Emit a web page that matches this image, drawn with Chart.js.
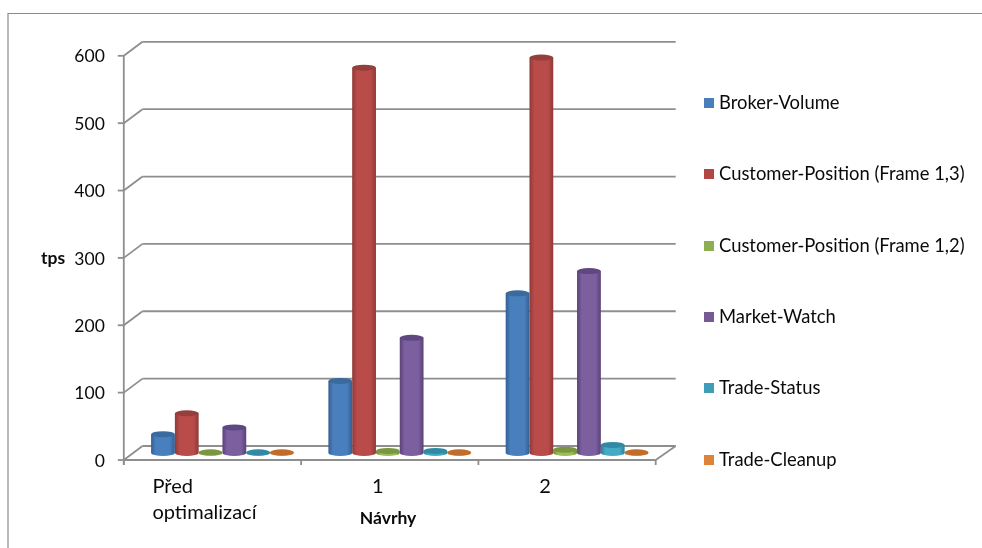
<!DOCTYPE html>
<html>
<head>
<meta charset="utf-8">
<style>html,body{margin:0;padding:0;background:#fff}#wrap{width:982px;height:548px}</style>
<script src="https://cdn.jsdelivr.net/npm/chart.js@4/dist/chart.umd.min.js"></script>
</head>
<body>
<div id="wrap"><canvas id="c" width="982" height="548"></canvas></div>
<script>
const categories = [['Před', 'optimalizací'], '1', '2'];
const brokerVolume = [28, 107, 237];
const customerPosition13 = [59, 572, 587];
const customerPosition12 = [1, 3, 5];
const marketWatch = [38, 171, 270];
const tradeStatus = [1, 3, 12];
const tradeCleanup = [1, 1, 1];
const seriesNames = ['Broker-Volume', 'Customer-Position (Frame 1,3)', 'Customer-Position (Frame 1,2)', 'Market-Watch', 'Trade-Status', 'Trade-Cleanup'];
const seriesValues = [brokerVolume, customerPosition13, customerPosition12, marketWatch, tradeStatus, tradeCleanup];
const yTicks = [0, 100, 200, 300, 400, 500, 600];

// [legend, edge shade, centre highlight, top cap]
const palette = [
  ['#4a7ebb', '#335f92', '#4a7fbd', '#3b6a9f'],
  ['#b24644', '#8e3a38', '#b94b48', '#953f3d'],
  ['#8fae52', '#6f8a3c', '#9cbd58', '#7a963f'],
  ['#755a96', '#5a4278', '#7b5f9f', '#5f4880'],
  ['#3f9db8', '#2b7f98', '#45aac6', '#308aa3'],
  ['#de8436', '#b9621f', '#e08638', '#c06c2b']
];

const FONT = 'Lato, Carlito, sans-serif';
const INK = '#0a0a0a';
const GRID = '#8e8e8e';

// Depth of the floor: the cylinders stand half way between the front and back edges.
const DEPTH_DY = 7;
const BACK_LEFT = 8.7;
const BACK_RIGHT = 10;
const FRONT_SHIFT = 10;
const CAP_RY = 3;

function swatch(color) {
  const s = document.createElement('canvas');
  s.width = 10; s.height = 10;
  const g = s.getContext('2d');
  g.fillStyle = color;
  g.fillRect(0, 0, 10, 10);
  return s;
}

function line(ctx, x1, y1, x2, y2) {
  ctx.beginPath();
  ctx.moveTo(x1, y1);
  ctx.lineTo(x2, y2);
  ctx.stroke();
}

const frame3d = {
  id: 'frame3d',
  beforeLayout(chart) {
    // The legend floats over the right margin with a fixed column width.
    const lg = chart.legend;
    if (lg && !lg._fixedFit) {
      const fit = lg.fit;
      lg.fit = function () { fit.call(this); this.width = 316.3; };
      lg._fixedFit = true;
    }
  },
  afterLayout(chart) {
    chart.legend.left = 654.8;
    chart.legend.top = 40.6;
  },
  beforeDatasetsDraw(chart) {
    const { ctx, scales: { x, y }, chartArea: a } = chart;
    ctx.save();
    // outer chart border: top and left edges only
    ctx.strokeStyle = '#8a8a8a';
    ctx.lineWidth = 1.2;
    line(ctx, 8, 13.5, 982, 13.5);
    line(ctx, 8, 13, 8, 548);

    ctx.strokeStyle = GRID;
    ctx.lineWidth = 1.8;
    const fl = a.left - FRONT_SHIFT, bl = a.left + BACK_LEFT, br = a.right + BACK_RIGHT;
    for (const v of yTicks) {
      const py = y.getPixelForValue(v);
      line(ctx, fl, py + DEPTH_DY, bl, py - DEPTH_DY);
      line(ctx, bl, py - DEPTH_DY, br, py - DEPTH_DY);
      line(ctx, fl - 6, py + DEPTH_DY, fl, py + DEPTH_DY);
    }
    const y0 = y.getPixelForValue(0);
    const yTop = y.getPixelForValue(600);
    const fr = a.right - FRONT_SHIFT;
    line(ctx, fl, yTop + DEPTH_DY, fl, y0 + DEPTH_DY + 5);
    line(ctx, fl, y0 + DEPTH_DY, fr, y0 + DEPTH_DY);
    line(ctx, fr, y0 + DEPTH_DY, br, y0 - DEPTH_DY);
    const step = (fr - fl) / categories.length;
    for (let i = 0; i <= categories.length; i++) {
      line(ctx, fl + step * i, y0 + DEPTH_DY, fl + step * i, y0 + DEPTH_DY + 5);
    }
    ctx.restore();
  },
  beforeDatasetDraw(chart, args) {
    const { ctx } = chart;
    const colors = palette[args.index];
    for (const bar of args.meta.data) {
      const { x, y, base, width } = bar.getProps(['x', 'y', 'base', 'width'], true);
      const l = x - width / 2, r = x + width / 2;
      const g = ctx.createLinearGradient(l, 0, r, 0);
      g.addColorStop(0, colors[1]);
      g.addColorStop(0.2, colors[2]);
      g.addColorStop(0.78, colors[2]);
      g.addColorStop(1, colors[1]);
      ctx.save();
      ctx.fillStyle = g;
      ctx.beginPath();
      ctx.moveTo(l, y);
      ctx.lineTo(l, base);
      ctx.ellipse(x, base, width / 2, CAP_RY, 0, Math.PI, 0, true);
      ctx.lineTo(r, y);
      ctx.closePath();
      ctx.fill();
      ctx.fillStyle = colors[3];
      ctx.beginPath();
      ctx.ellipse(x, y, width / 2, CAP_RY, 0, 0, Math.PI * 2);
      ctx.fill();
      ctx.restore();
    }
    return false;
  },
  afterDraw(chart) {
    const { ctx, scales: { x } } = chart;
    ctx.save();
    ctx.fillStyle = INK;
    ctx.textBaseline = 'middle';
    // category labels sit left of their group centres
    ctx.font = '20px ' + FONT;
    ctx.textAlign = 'left';
    const first = x.getPixelForTick(0) - 70;
    categories[0].forEach((t, i) => ctx.fillText(t, first, 487 + i * 26));
    ctx.textAlign = 'center';
    ctx.fillText(categories[1], x.getPixelForTick(1) - 22, 487);
    ctx.fillText(categories[2], x.getPixelForTick(2) - 32, 487);
    // axis titles
    ctx.font = 'bold 17.5px ' + FONT;
    ctx.fillText('tps', 53, 258);
    ctx.fillText('Návrhy', 388, 518);
    ctx.restore();
  }
};

new Chart(document.getElementById('c'), {
  type: 'bar',
  data: {
    labels: categories,
    datasets: seriesNames.map((name, i) => ({
      label: name,
      data: seriesValues[i],
      backgroundColor: palette[i][0],
      borderWidth: 0,
      categoryPercentage: 0.805,
      barPercentage: 1
    }))
  },
  options: {
    responsive: false,
    animation: false,
    layout: { padding: { top: 48.8, left: 0, right: 0, bottom: 0 } },
    plugins: {
      tooltip: { enabled: false },
      title: { display: false },
      legend: {
        position: 'right',
        align: 'start',
        labels: {
          usePointStyle: true,
          boxWidth: 2,
          padding: 53,
          color: INK,
          font: { family: FONT, size: 18.4 },
          generateLabels(chart) {
            return Chart.defaults.plugins.legend.labels.generateLabels(chart).map((item, i) => {
              item.pointStyle = swatch(palette[i][0]);
              return item;
            });
          }
        }
      }
    },
    scales: {
      x: {
        grid: { display: false },
        border: { display: false },
        ticks: { display: false },
        afterFit(s) { s.height = 95; }
      },
      y: {
        min: 0,
        max: 600,
        grid: { display: false },
        border: { display: false },
        afterBuildTicks(s) { s.ticks = yTicks.map(v => ({ value: v })); },
        ticks: { padding: 21, labelOffset: 8, color: INK, font: { family: FONT, size: 17.5 } },
        afterFit(s) { s.width = 133.8; }
      }
    }
  },
  plugins: [frame3d]
});
</script>
</body>
</html>
